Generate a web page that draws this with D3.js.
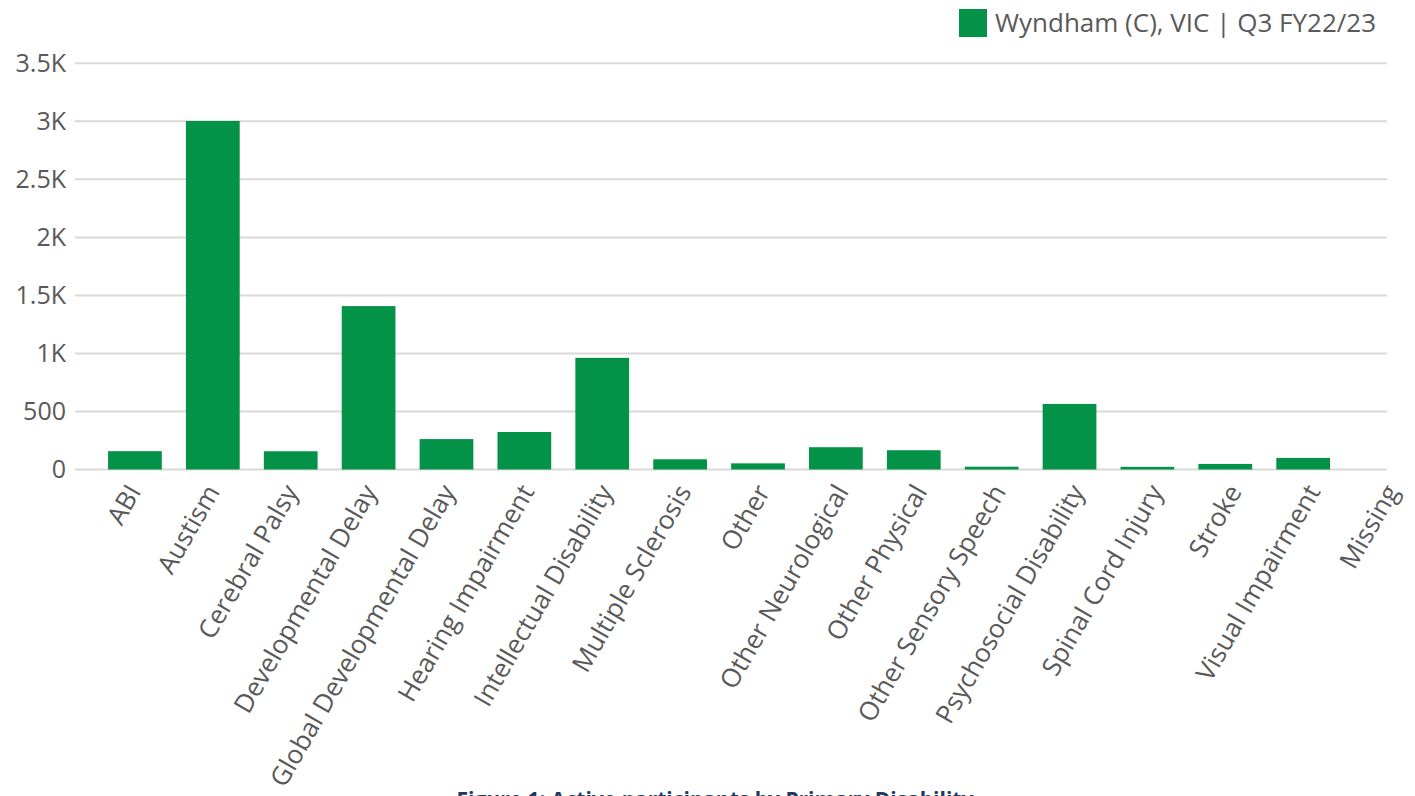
<!DOCTYPE html>
<html>
<head>
<meta charset="utf-8">
<script src="https://cdn.jsdelivr.net/npm/d3@7"></script>
<style>
  body { margin: 0; background: #fff; }
  svg { display: block; font-family: "Open Sans", sans-serif; }
</style>
</head>
<body>
<div id="chart"></div>
<script>
const width = 1415, height = 796;

// data
const categories = ["ABI", "Austism", "Cerebral Palsy", "Developmental Delay", "Global Developmental Delay",
  "Hearing Impairment", "Intellectual Disability", "Multiple Sclerosis", "Other", "Other Neurological",
  "Other Physical", "Other Sensory Speech", "Psychosocial Disability", "Spinal Cord Injury", "Stroke",
  "Visual Impairment", "Missing"];
const participants = [158, 3003, 157, 1408, 262, 323, 962, 88, 53, 192, 166, 24, 565, 23, 48, 100, 0];
const yTicks = [0, 500, 1000, 1500, 2000, 2500, 3000, 3500];
const yTickLabels = ["0", "500", "1K", "1.5K", "2K", "2.5K", "3K", "3.5K"];
const seriesName = "Wyndham (C), VIC | Q3 FY22/23";
const caption = "Figure 1: Active participants by Primary Disability";

const green = "#039247";
const grey = "#595959";

const svg = d3.create("svg")
    .attr("width", width)
    .attr("height", height)
    .attr("viewBox", [0, 0, width, height]);

const x = d3.scaleBand()
    .domain(categories)
    .range([96, 1420])
    .paddingInner(0.31)
    .paddingOuter(0.155);

// the category labels sit on a slightly wider spread than the bars
const xLabel = d3.scalePoint()
    .domain(categories)
    .range([134, 1392]);

const y = d3.scaleLinear()
    .domain([0, 3500])
    .range([469.5, 63.3]);

// gridlines
svg.append("g")
    .selectAll("line")
    .data(yTicks)
    .join("line")
    .attr("x1", 75)
    .attr("x2", 1387)
    .attr("y1", d => y(d))
    .attr("y2", d => y(d))
    .attr("stroke", "#d9d9d9")
    .attr("stroke-width", 2);

// y labels
svg.append("g")
    .selectAll("text")
    .data(yTicks)
    .join("text")
    .attr("x", 66)
    .attr("y", d => y(d))
    .attr("dy", "0.35em")
    .attr("text-anchor", "end")
    .attr("font-size", 25)
    .attr("fill", grey)
    .text((d, i) => yTickLabels[i]);

// bars
svg.append("g")
    .selectAll("rect")
    .data(categories)
    .join("rect")
    .attr("x", d => x(d))
    .attr("width", x.bandwidth())
    .attr("y", (d, i) => y(participants[i]))
    .attr("height", (d, i) => y(0) - y(participants[i]))
    .attr("fill", green);

// x labels, rotated
svg.append("g")
    .selectAll("text")
    .data(categories)
    .join("text")
    .attr("transform", d => `translate(${xLabel(d)},${487}) rotate(-60)`)
    .attr("text-anchor", "end")
    .attr("dy", "0.35em")
    .attr("font-size", 26)
    .attr("fill", grey)
    .text(d => d);

// legend
const legend = svg.append("g").attr("transform", "translate(959,9)");
legend.append("rect")
    .attr("width", 28)
    .attr("height", 28)
    .attr("fill", green);
legend.append("text")
    .attr("x", 36)
    .attr("y", 14)
    .attr("dy", "0.35em")
    .attr("font-size", 26)
    .attr("fill", grey)
    .text(seriesName);

// caption, cut off at the bottom edge like the reference
svg.append("text")
    .attr("x", 715)
    .attr("y", 807)
    .attr("text-anchor", "middle")
    .attr("font-size", 21)
    .attr("font-weight", "bold")
    .attr("fill", "#1f3864")
    .text(caption);

d3.select("#chart").append(() => svg.node());
</script>
</body>
</html>
